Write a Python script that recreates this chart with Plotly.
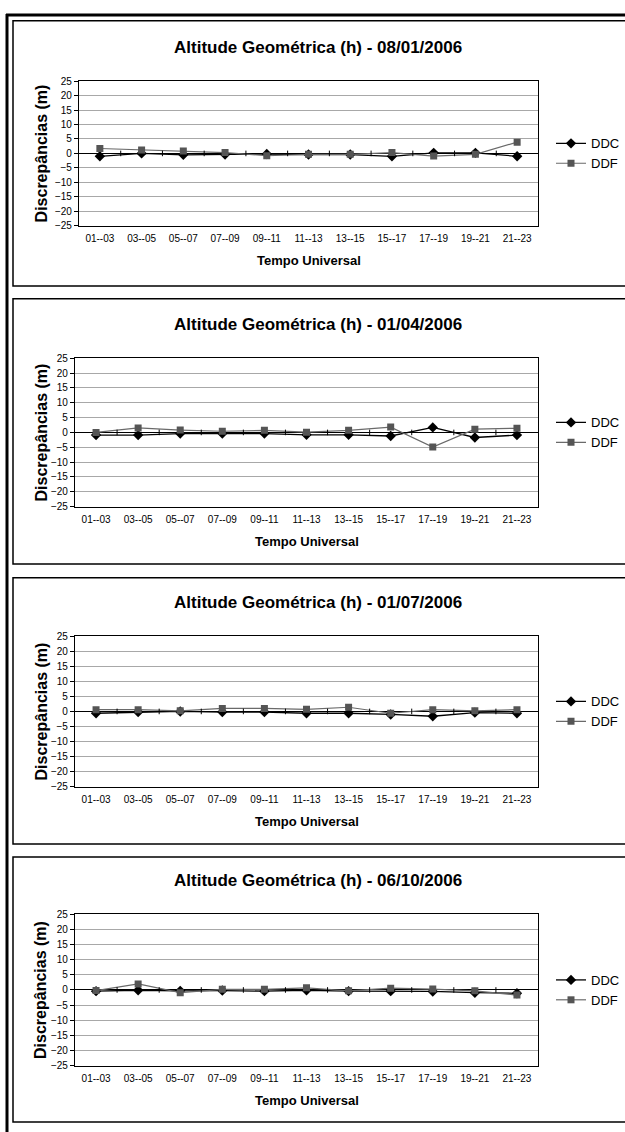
import plotly.graph_objects as go

W, H = 625, 1132

categories = ["01--03", "03--05", "05--07", "07--09", "09--11", "11--13",
              "13--15", "15--17", "17--19", "19--21", "21--23"]

titles = [
    "Altitude Geométrica (h) - 08/01/2006",
    "Altitude Geométrica (h) - 01/04/2006",
    "Altitude Geométrica (h) - 01/07/2006",
    "Altitude Geométrica (h) - 06/10/2006",
]

ddc_jan = [-1.0, 0.0, -0.5, -0.4, -0.2, -0.4, -0.4, -1.0, 0.2, 0.2, -1.0]
ddf_jan = [1.7, 1.2, 0.8, 0.3, -0.8, -0.3, -0.3, 0.3, -0.9, -0.3, 3.9]

ddc_apr = [-0.9, -0.9, -0.4, -0.4, -0.4, -0.8, -0.8, -1.2, 1.7, -1.7, -0.9]
ddf_apr = [0.0, 1.5, 0.8, 0.4, 0.7, 0.1, 0.7, 1.8, -4.9, 1.1, 1.4]

ddc_jul = [-0.6, -0.2, 0.0, -0.2, -0.2, -0.6, -0.6, -1.0, -1.6, -0.4, -0.6]
ddf_jul = [0.6, 0.6, 0.2, 1.0, 1.0, 0.7, 1.4, -0.6, 0.6, 0.2, 0.6]

ddc_oct = [-0.4, -0.1, -0.3, -0.2, -0.4, -0.1, -0.4, -0.4, -0.5, -0.9, -1.1]
ddf_oct = [-0.2, 2.0, -0.9, 0.2, 0.2, 0.7, -0.3, 0.6, 0.3, -0.3, -1.7]

series = [(ddc_jan, ddf_jan), (ddc_apr, ddf_apr), (ddc_jul, ddf_jul), (ddc_oct, ddf_oct)]

y_ticks = list(range(-25, 30, 5))
y_range = [-25, 25]

# layout in pixels
plots = [  # (left, right, top, bottom)
    (79, 538, 76, 222),
    (75, 538, 356, 506),
    (75, 538, 637, 789),
    (75, 538, 918, 1071),
]
boxes = [(15, 283), (296, 564), (578, 847), (860, 1128)]

FONT = "Liberation Sans, Arial, sans-serif"


def px(x):
    return x / W


def py(y):
    return 1 - y / H


fig = go.Figure()
xs = list(range(len(categories)))
bounds = [i + 0.5 for i in range(len(categories) - 1)]

annotations = []
shapes = []
layout_axes = {}

for k, ((ddc, ddf), (l, r, t, b), title) in enumerate(zip(series, plots, titles)):
    n = "" if k == 0 else str(k + 1)
    xa, ya = "x" + n, "y" + n
    lg = "legend" + n
    fig.add_trace(go.Scatter(
        x=xs, y=ddc, name="DDC", xaxis=xa, yaxis=ya, legend=lg, legendgroup="a" + n,
        mode="lines+markers", line=dict(color="#000000", width=1.3),
        marker=dict(symbol="diamond", size=8, color="#000000")))
    fig.add_trace(go.Scatter(
        x=xs, y=ddf, name="DDF", xaxis=xa, yaxis=ya, legend=lg, legendgroup="b" + n,
        mode="lines+markers", line=dict(color="#6a6a6a", width=1.2),
        marker=dict(symbol="square", size=7, color="#555555")))
    # category boundary ticks on the zero line
    fig.add_trace(go.Scatter(
        x=bounds, y=[0] * len(bounds), xaxis=xa, yaxis=ya, mode="markers",
        showlegend=False, hoverinfo="skip",
        marker=dict(symbol="line-ns", size=4, line=dict(color="#000000", width=1))))

    layout_axes["xaxis" + n] = dict(
        domain=[px(l), px(r)], anchor=ya, range=[-0.5, len(categories) - 0.5],
        tickvals=xs, ticktext=categories, showgrid=False, zeroline=False,
        showline=True, mirror=True, linecolor="#000000", linewidth=1.3,
        ticks="outside", ticklen=3, tickcolor="rgba(0,0,0,0)",
        tickfont=dict(family=FONT, size=10, color="#000000"), fixedrange=True)
    layout_axes["yaxis" + n] = dict(
        domain=[py(b), py(t)], anchor=xa, range=y_range, tickvals=y_ticks,
        showgrid=True, gridcolor="#a8a8a8", gridwidth=1,
        zeroline=True, zerolinecolor="#000000", zerolinewidth=1.3,
        showline=True, mirror=True, linecolor="#000000", linewidth=1.3,
        ticks="outside", ticklen=4, tickcolor="#000000",
        tickfont=dict(family=FONT, size=10, color="#000000"), fixedrange=True)

    mid = (t + b) / 2
    layout_axes[lg] = dict(
        x=px(551), y=py(mid), xanchor="left", yanchor="middle",
        bgcolor="rgba(0,0,0,0)", borderwidth=0, itemwidth=30,
        tracegroupgap=10, font=dict(family=FONT, size=13, color="#000000"),
        traceorder="normal")

    annotations.append(dict(
        text="<b>%s</b>" % title, x=px(318), y=py(t - 34), xref="paper", yref="paper",
        xanchor="center", yanchor="middle",
        showarrow=False, font=dict(family=FONT, size=17, color="#000000")))
    annotations.append(dict(
        text="<b>Discrepâncias (m)</b>", x=px(41), y=py(mid), xref="paper", yref="paper",
        xanchor="center", yanchor="middle",
        textangle=-90, showarrow=False, font=dict(family=FONT, size=16, color="#000000")))
    annotations.append(dict(
        text="<b>Tempo Universal</b>", x=px((l + r) / 2), y=py(b + 35), xref="paper",
        yref="paper", xanchor="center", yanchor="middle",
        showarrow=False, font=dict(family=FONT, size=13, color="#000000")))

    bt, bb = boxes[k]
    shapes.append(dict(type="rect", xref="paper", yref="paper",
                       x0=px(13), x1=px(640), y0=py(bb), y1=py(bt),
                       line=dict(color="#000000", width=1.5)))

# outer page border (left and top)
shapes.append(dict(type="line", xref="paper", yref="paper", x0=px(7), x1=px(7),
                   y0=py(1140), y1=py(8), line=dict(color="#000000", width=3)))
shapes.append(dict(type="line", xref="paper", yref="paper", x0=px(6), x1=px(640),
                   y0=py(9), y1=py(9), line=dict(color="#000000", width=3)))

fig.update_layout(
    width=W, height=H, autosize=False,
    margin=dict(l=0, r=0, t=0, b=0),
    paper_bgcolor="#ffffff", plot_bgcolor="#ffffff",
    annotations=annotations, shapes=shapes,
    font=dict(family=FONT, color="#000000"),
    **layout_axes)

fig.write_html("out.html", config={"displayModeBar": False},
               post_script="document.body.style.margin='0';")
